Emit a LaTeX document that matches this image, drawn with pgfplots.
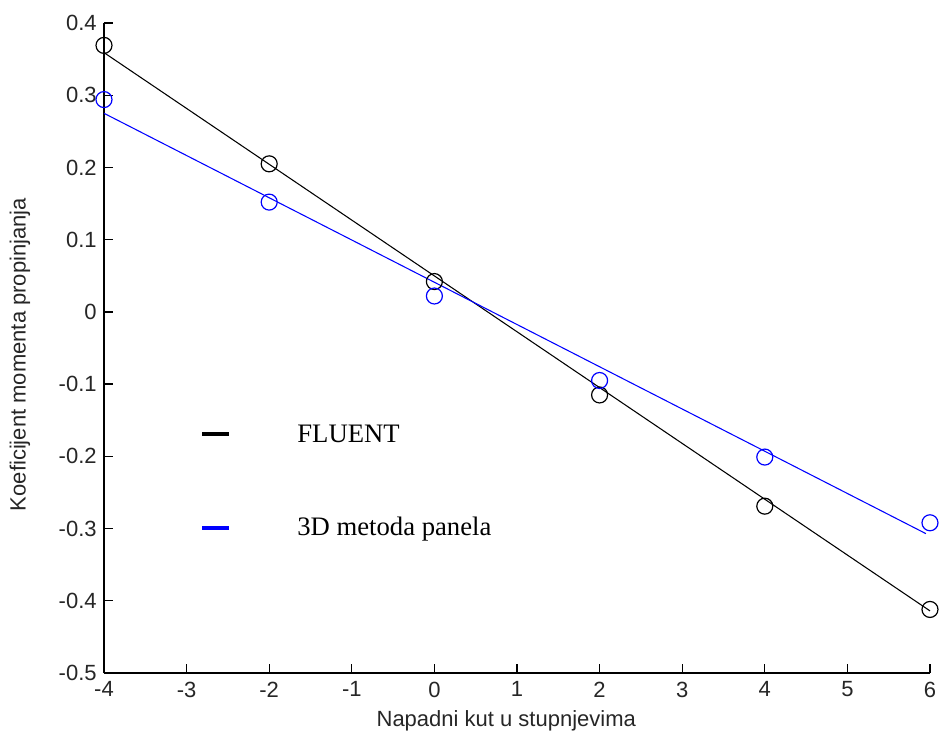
\documentclass[border=0pt]{standalone}
\usepackage{pgfplots}
\pgfplotsset{compat=1.18}
\usepackage{fontspec}
\setmainfont{Liberation Serif}
\newfontfamily\tickfont{Liberation Sans}
\begin{document}
\begin{tikzpicture}
\useasboundingbox (-78pt,-53.25pt) rectangle (627pt,504.75pt);
\begin{axis}[
  scale only axis,
  width=619.5pt, height=487.5pt,
  xmin=-4, xmax=6, ymin=-0.5, ymax=0.4,
  axis lines=left,
  axis line style={-, line width=1.2pt},
  tick align=inside,
  major tick length=7pt,
  tick style={line width=1pt, black},
  xtick={-4,-3,...,6},
  ytick={-0.5,-0.4,-0.3,-0.2,-0.1,0,0.1,0.2,0.3,0.4},
  yticklabels={-0.5,-0.4,-0.3,-0.2,-0.1,0,0.1,0.2,0.3,0.4},
  /pgf/number format/assume math mode=true,
  ticklabel style={font=\tickfont\fontsize{16.5}{18}\selectfont, text=black!85},
  xticklabel style={yshift=-3pt},
  yticklabel style={xshift=-2pt},
  xlabel={Napadni kut u stupnjevima},
  ylabel={Koeficijent momenta propinjanja},
  label style={font=\tickfont\fontsize{16.5}{18}\selectfont, text=black!85},
  xlabel style={at={(axis description cs:0.487,-0.074)}, anchor=center},
  ylabel style={at={(axis description cs:-0.1017,0.49)}, anchor=center},
  legend style={draw=none, fill=none, inner sep=0pt,
    at={(axis cs:-2.84,-0.152)}, anchor=north west,
    font=\fontsize{20}{24}\selectfont, row sep=51pt,
    /tikz/every odd column/.append style={column sep=48pt}},
  legend cell align=left,
  clip=false,
]
\addplot[black, line width=0.8pt, mark=none,
  legend image code/.code={\draw[line width=3pt,black] (0pt,0pt) -- (20pt,0pt);}]
  coordinates {(-4,0.359) (6,-0.414)};
\addlegendentry{FLUENT}
\addplot[blue, line width=0.8pt, mark=none,
  legend image code/.code={\draw[line width=3pt,blue] (0pt,0pt) -- (20pt,0pt);}]
  coordinates {(-4,0.275) (5.95,-0.307)};
\addlegendentry{3D metoda panela}
\addplot[black, only marks, mark=o, mark size=6pt, line width=0.9pt, forget plot]
  coordinates {(-4,0.369) (-2,0.205) (0,0.042) (2,-0.115) (4,-0.269) (6,-0.412)};
\addplot[blue, only marks, mark=o, mark size=6pt, line width=0.9pt, forget plot]
  coordinates {(-4,0.294) (-2,0.152) (0,0.022) (2,-0.095) (4,-0.201) (6,-0.292)};
\end{axis}
\end{tikzpicture}
\end{document}
